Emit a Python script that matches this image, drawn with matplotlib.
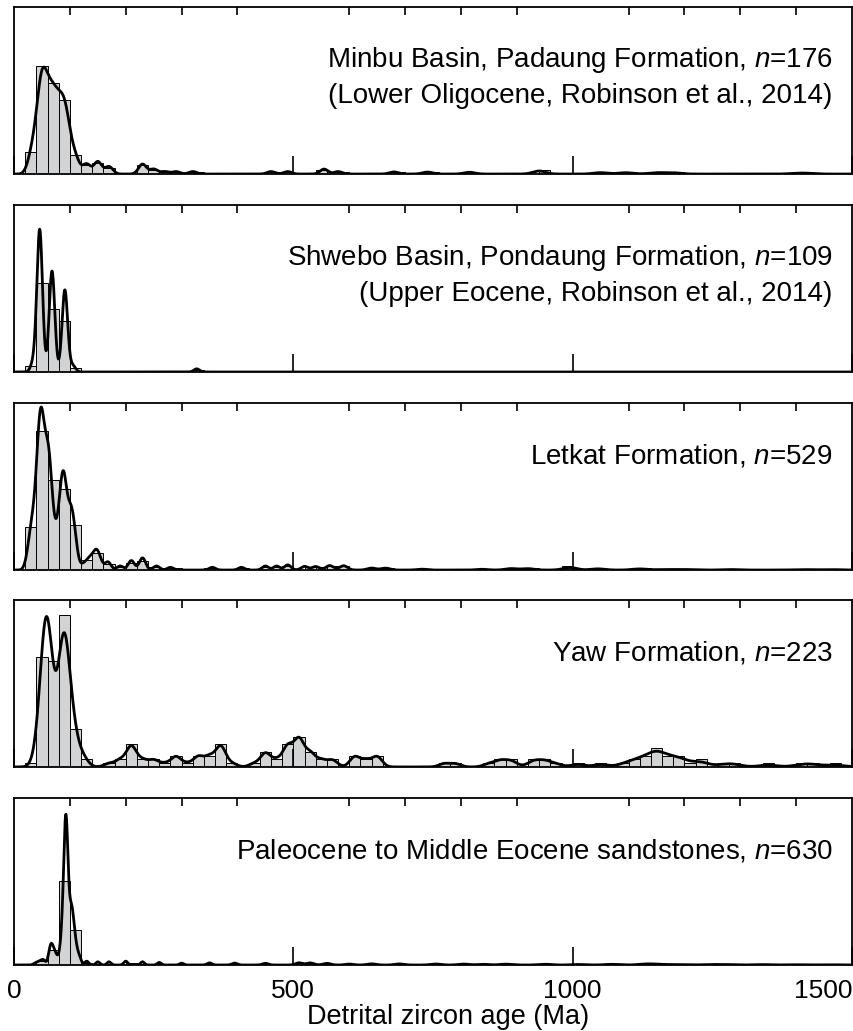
import numpy as np
import matplotlib
matplotlib.use('Agg')
import matplotlib.pyplot as plt

plt.rcParams['font.family'] = ['Liberation Sans', 'DejaVu Sans']
plt.rcParams['mathtext.fontset'] = 'custom'
plt.rcParams['mathtext.rm'] = 'Liberation Sans'
plt.rcParams['mathtext.it'] = 'Liberation Sans:italic'

bin_edges = np.arange(0, 1520, 20)

# grain ages (Ma) and number of grains at each age, one pair of lists per panel
minbu_ages = [28, 35, 43, 48, 53, 58, 63, 68, 73, 78, 83, 88, 93, 97, 104, 112, 130, 150, 170,
              230, 250, 270, 290, 320, 460, 490, 555, 580, 680, 740, 815, 940, 1050, 1095, 1150,
              1180, 1410]
minbu_counts = [3, 7, 10, 15, 14, 11, 11, 11, 10, 10, 9, 10, 9, 6, 5, 4, 4, 5, 3,
                4, 2, 1, 1, 1, 1, 1, 2, 1, 1, 1, 1, 2, 1, 1, 1,
                1, 1]

shwebo_ages = [35, 46, 68, 91, 105, 327]
shwebo_counts = [3, 45, 32, 26, 2, 1]

letkat_ages = [25, 30, 35, 39, 43, 47, 51, 56, 61, 65, 70, 77, 83, 87, 91, 96, 101, 105, 110,
               125, 135, 145, 152, 168, 190, 210, 230, 255, 280, 355, 407, 450, 470, 490, 520,
               540, 565, 590, 640, 665, 730, 838, 890, 920, 995, 1045, 1120, 1165, 1200, 1283,
               1410, 1462]
letkat_counts = [5, 15, 15, 10, 30, 50, 40, 26, 40, 30, 10, 15, 15, 35, 25, 10, 20, 17, 10,
                 4, 7, 10, 8, 6, 3, 7, 9, 3, 2, 2, 2, 3, 3, 4, 3,
                 3, 4, 4, 2, 2, 1, 1, 2, 2, 4, 2, 2, 1, 1, 1,
                 1, 1]

yaw_ages = [38, 45, 50, 56, 61, 66, 72, 77, 83, 88, 92, 97, 103, 108, 115, 125,
            170, 190, 210, 230, 250, 270, 290, 310, 330, 350, 370, 390, 430, 450, 470, 490,
            510, 530, 550, 570, 610, 630, 650, 770, 790, 850, 870, 890, 930, 950, 970, 1010,
            1050, 1090, 1110, 1130, 1150, 1170, 1190, 1210, 1230, 1270, 1290, 1350, 1410,
            1430, 1470]
yaw_counts = [1, 3, 8, 18, 16, 6, 3, 3, 7, 15, 12, 6, 5, 3, 2, 2,
              1, 2, 6, 2, 2, 1, 3, 1, 3, 3, 6, 1, 1, 4, 2, 6,
              8, 4, 2, 2, 3, 2, 3, 1, 1, 1, 2, 2, 2, 2, 1, 1,
              1, 1, 2, 3, 5, 3, 3, 1, 2, 1, 1, 1, 1,
              1, 1]

paleo_ages = [38, 45, 52, 62, 66, 71, 76, 84, 88, 92, 94, 98, 102, 106, 111, 117,
              130, 150, 170, 200, 230, 260, 300, 350, 395, 450, 510, 530, 560, 600, 640,
              690, 755, 805, 840, 880, 950, 1010, 1070, 1130, 1150, 1185, 1245, 1275, 1340,
              1400, 1460]
paleo_counts = [3, 5, 8, 5, 25, 15, 10, 20, 35, 120, 100, 25, 55, 40, 20, 11,
                6, 5, 5, 6, 5, 4, 3, 4, 4, 4, 6, 6, 5, 3, 4,
                4, 4, 4, 3, 4, 4, 3, 4, 5, 4, 3, 3, 3, 3,
                2, 2]

panel_ages = [minbu_ages, shwebo_ages, letkat_ages, yaw_ages, paleo_ages]
panel_counts = [minbu_counts, shwebo_counts, letkat_counts, yaw_counts, paleo_counts]
panel_labels = [
    ['Minbu Basin, Padaung Formation, $n$=176', '(Lower Oligocene, Robinson et al., 2014)'],
    ['Shwebo Basin, Pondaung Formation, $n$=109', '(Upper Eocene, Robinson et al., 2014)'],
    ['Letkat Formation, $n$=529'],
    ['Yaw Formation, $n$=223'],
    ['Paleocene to Middle Eocene sandstones, $n$=630'],
]
tick_values = [0, 500, 1000, 1500]
tick_names = ['0', '500', '1000', '1500']

# smallest kernel width (Ma) and y range (grains per bin) for each panel
min_sigma = [7, 5, 5.6, 9, 3.5]
y_top = [77, 84.5, 176, 44, 595]
panel_bottoms = [0.8312, 0.6392, 0.4471, 0.2561, 0.0640]


def density_curve(ages, counts, smin, x):
    ages = np.asarray(ages, dtype=float)
    counts = np.asarray(counts, dtype=float)
    sigma = np.maximum(smin, 0.012 * ages)
    z = (x[None, :] - ages[:, None]) / sigma[:, None]
    dens = counts[:, None] * np.exp(-0.5 * z ** 2) / (sigma[:, None] * np.sqrt(2 * np.pi))
    # scale to grains per 20 Ma bin so it sits on the histogram
    return dens.sum(axis=0) * 20


fig = plt.figure(figsize=(8.54, 10.31), dpi=100)
x_grid = np.linspace(0, 1500, 3001)

for i in range(5):
    ax = fig.add_axes([0.0164, panel_bottoms[i], 0.9813, 0.162])
    ax.hist(panel_ages[i], bins=bin_edges, weights=panel_counts[i],
            color='#d1d3d4', edgecolor='black', linewidth=0.7, zorder=1)
    ax.plot(x_grid, density_curve(panel_ages[i], panel_counts[i], min_sigma[i], x_grid),
            color='black', linewidth=2.0, zorder=2)

    ax.set_xlim(0, 1500)
    ax.set_ylim(0, y_top[i])
    ax.set_yticks([])
    for s in ax.spines.values():
        s.set_linewidth(1.3)

    ax.set_xticks(tick_values)
    ax.set_xticks(np.arange(100, 1500, 100), minor=True)
    ax.tick_params(axis='x', which='major', direction='in', length=13, width=1.2,
                   top=False, bottom=True, labelsize=19, pad=10)
    ax.tick_params(axis='x', which='minor', direction='in', length=6, width=1.2,
                   top=True, bottom=False)
    if i < 4:
        ax.tick_params(axis='x', which='major', labelbottom=False)
    else:
        ax.set_xticklabels(tick_names)
        ax.get_xticklabels()[-1].set_ha('right')

    lines = panel_labels[i]
    ax.text(0.977, 0.68, lines[0], transform=ax.transAxes, ha='right', va='center', fontsize=20)
    if len(lines) > 1:
        ax.text(0.977, 0.465, lines[1], transform=ax.transAxes, ha='right', va='center', fontsize=20)

    if i == 4:
        ax.set_xlabel('Detrital zircon age (Ma)', fontsize=19.5)
        ax.xaxis.set_label_coords(0.518, -0.235)
        ax.xaxis.label.set_va('top')

fig.savefig('out.png', dpi=100)
